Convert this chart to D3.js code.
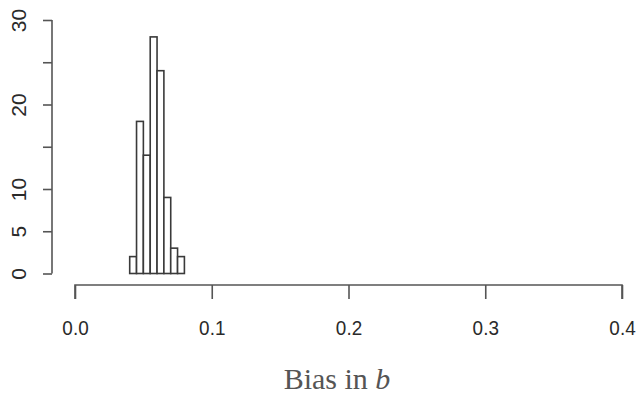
<!DOCTYPE html>
<html>
<head>
<meta charset="utf-8">
<script src="https://cdn.jsdelivr.net/npm/d3@7"></script>
<style>
  body{margin:0;background:#fff;}
  svg{display:block;}
</style>
</head>
<body>
<script>
// histogram of bias in b, bin width 0.005
const binStart=[0.040,0.045,0.050,0.055,0.060,0.065,0.070,0.075];
const binEnd=[0.045,0.050,0.055,0.060,0.065,0.070,0.075,0.080];
const counts=[2,18,14,28,24,9,3,2];
const xTicks=[0.0,0.1,0.2,0.3,0.4];
const yTicks=[0,5,10,15,20,25,30];
const yLabels=[0,5,10,20,30];

const width=640,height=400;
const svg=d3.select("body").append("svg")
  .attr("width",width).attr("height",height);

const x=d3.scaleLinear().domain([0,0.4]).range([75,622]);
const y=d3.scaleLinear().domain([0,30]).range([273.5,20]);

// bars
svg.selectAll("rect.bar")
  .data(counts)
  .enter()
  .append("rect")
  .attr("class","bar")
  .attr("x",(d,i)=>x(binStart[i]))
  .attr("width",(d,i)=>x(binEnd[i])-x(binStart[i]))
  .attr("y",d=>y(d))
  .attr("height",d=>y(0)-y(d))
  .attr("fill","#fff")
  .attr("stroke","#3a3a3a")
  .attr("stroke-width",1.6);

// x axis
const xAxis=d3.axisBottom(x).tickValues(xTicks).tickSize(14).tickPadding(21)
  .tickFormat(d3.format(".1f"));
const gx=svg.append("g").attr("transform","translate(0,285)").call(xAxis);
gx.select(".domain").attr("d",`M${x(0)},14V0H${x(0.4)}V14`);

// y axis
const yAxis=d3.axisLeft(y).tickValues(yTicks).tickSize(9)
  .tickFormat(d=>yLabels.includes(d)?d:"");
const gy=svg.append("g").attr("transform","translate(52,0)").call(yAxis);
gy.select(".domain").attr("d",`M0,${y(0)}V${y(30)}`);
gy.selectAll(".tick text")
  .attr("transform","rotate(-90)")
  .attr("x",0).attr("y",-33).attr("dy","0.35em")
  .attr("text-anchor","middle");

[gx,gy].forEach(g=>{
  g.attr("font-size",null).attr("font-family",null);
  g.selectAll(".domain,.tick line").attr("stroke","#555").attr("stroke-width",1.6);
  g.selectAll(".tick text")
    .attr("fill","#2a2a2a")
    .style("font-family","'Liberation Sans',Arial,sans-serif")
    .style("font-size","21px");
});
gx.selectAll(".tick text").attr("transform","scale(0.9,1)");

// x label
const lab=svg.append("text")
  .attr("x",337).attr("y",389)
  .attr("text-anchor","middle")
  .attr("fill","#555")
  .style("font-family","'Liberation Serif','Times New Roman',serif")
  .style("font-size","30px");
lab.append("tspan").text("Bias in ");
lab.append("tspan").style("font-style","italic").text("b");
</script>
</body>
</html>
